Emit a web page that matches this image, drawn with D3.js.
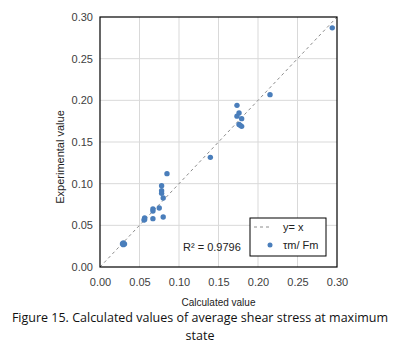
<!DOCTYPE html>
<html>
<head>
<meta charset="utf-8">
<script src="https://cdn.jsdelivr.net/npm/d3@7"></script>
<style>
  body { margin: 0; background: #fff; }
  svg { display: block; }
  .tick text { font-family: "Liberation Sans", Arial, sans-serif; font-size: 11px; fill: #404040; }
</style>
</head>
<body>
<div id="chart"></div>
<script>
// data (calculated, experimental)
var calculated = [0.0848, 0.078, 0.078, 0.078, 0.080, 0.075, 0.067, 0.067, 0.067, 0.080,
                  0.0565, 0.0565, 0.0557, 0.0295, 0.0295, 0.031, 0.0285,
                  0.1734, 0.176, 0.1734, 0.1793, 0.176, 0.1793, 0.1776, 0.1397, 0.2152, 0.294];
var experimental = [0.112, 0.0976, 0.0916, 0.0884, 0.0828, 0.0708, 0.0696, 0.0672, 0.058, 0.060,
                    0.059, 0.057, 0.0564, 0.029, 0.0268, 0.0276, 0.028,
                    0.194, 0.1848, 0.181, 0.178, 0.171, 0.1688, 0.170, 0.1316, 0.2068, 0.287];
var tickValues = [0, 0.05, 0.10, 0.15, 0.20, 0.25, 0.30];
var r2Label = "R² = 0.9796";

var svgWidth = 401, svgHeight = 350;
var margin = { top: 17, right: 64, bottom: 83, left: 100 };
var width = svgWidth - margin.left - margin.right,
    height = svgHeight - margin.top - margin.bottom;

var svg = d3.select("#chart").append("svg")
  .attr("width", svgWidth)
  .attr("height", svgHeight);

var g = svg.append("g")
  .attr("transform", "translate(" + margin.left + "," + margin.top + ")");

var x = d3.scaleLinear().domain([0, 0.3]).range([0, width]);
var y = d3.scaleLinear().domain([0, 0.3]).range([height, 0]);

// grid lines
g.append("g").selectAll("line.vg")
  .data(tickValues.slice(1, -1))
  .enter().append("line")
  .attr("x1", d => x(d)).attr("x2", d => x(d))
  .attr("y1", 0).attr("y2", height)
  .attr("stroke", "#d9d9d9").attr("stroke-width", 1);

g.append("g").selectAll("line.hg")
  .data(tickValues.slice(1, -1))
  .enter().append("line")
  .attr("y1", d => y(d)).attr("y2", d => y(d))
  .attr("x1", 0).attr("x2", width)
  .attr("stroke", "#d9d9d9").attr("stroke-width", 1);

// axes (labels only)
var xAxis = d3.axisBottom(x).tickValues(tickValues).tickFormat(d3.format(".2f")).tickSize(0).tickPadding(11);
var yAxis = d3.axisLeft(y).tickValues(tickValues).tickFormat(d3.format(".2f")).tickSize(0).tickPadding(7);

g.append("g")
  .attr("transform", "translate(0," + height + ")")
  .call(xAxis)
  .call(a => a.select(".domain").remove());

g.append("g")
  .call(yAxis)
  .call(a => a.select(".domain").remove());

// y = x line
g.append("line")
  .attr("x1", x(0)).attr("y1", y(0))
  .attr("x2", x(0.3)).attr("y2", y(0.3))
  .attr("stroke", "#8c8c8c")
  .attr("stroke-width", 1)
  .attr("stroke-dasharray", "3,3");

// frame
g.append("rect")
  .attr("width", width).attr("height", height)
  .attr("fill", "none").attr("stroke", "#000").attr("stroke-width", 1.2);

// points
g.selectAll(".dot")
  .data(calculated.map((c, i) => ({ c: c, e: experimental[i] })))
  .enter().append("circle")
  .attr("class", "dot")
  .attr("cx", d => x(d.c))
  .attr("cy", d => y(d.e))
  .attr("r", 2.7)
  .attr("fill", "#4a7ebb");

// R^2 label
g.append("text")
  .attr("x", 83).attr("y", 234)
  .style("font-family", "'Liberation Sans', Arial, sans-serif")
  .style("font-size", "11px")
  .attr("fill", "#222")
  .text(r2Label);

// legend
var legend = g.append("g").attr("transform", "translate(150,201)");
legend.append("rect")
  .attr("width", 76).attr("height", 38)
  .attr("fill", "#fff").attr("stroke", "#000").attr("stroke-width", 1);
legend.append("line")
  .attr("x1", 4).attr("x2", 20).attr("y1", 9).attr("y2", 9)
  .attr("stroke", "#8c8c8c").attr("stroke-dasharray", "3,3");
legend.append("text")
  .attr("x", 33).attr("y", 13)
  .style("font-family", "'Liberation Sans', Arial, sans-serif")
  .style("font-size", "11px").attr("fill", "#222")
  .text("y= x");
legend.append("circle")
  .attr("cx", 20).attr("cy", 27).attr("r", 2.5).attr("fill", "#4a7ebb");
legend.append("text")
  .attr("x", 33).attr("y", 31)
  .style("font-family", "'Liberation Sans', Arial, sans-serif")
  .style("font-size", "11px").attr("fill", "#222")
  .text("τm/ Fm");

// axis titles
svg.append("text")
  .attr("x", margin.left + width / 2).attr("y", 306)
  .attr("text-anchor", "middle")
  .style("font-family", "'Liberation Sans', Arial, sans-serif")
  .style("font-size", "10px").attr("fill", "#222")
  .text("Calculated value");

svg.append("text")
  .attr("transform", "translate(64,157) rotate(-90)")
  .attr("text-anchor", "middle")
  .style("font-family", "'Liberation Sans', Arial, sans-serif")
  .style("font-size", "11px").attr("fill", "#222")
  .text("Experimental value");

// caption
var cap = svg.append("text")
  .attr("text-anchor", "middle")
  .style("font-family", "'Open Sans', sans-serif")
  .style("font-size", "12.5px").attr("fill", "#111");
cap.append("tspan").attr("x", 200).attr("y", 322)
  .text("Figure 15. Calculated values of average shear stress at maximum");
cap.append("tspan").attr("x", 200).attr("y", 340)
  .text("state");
</script>
</body>
</html>
